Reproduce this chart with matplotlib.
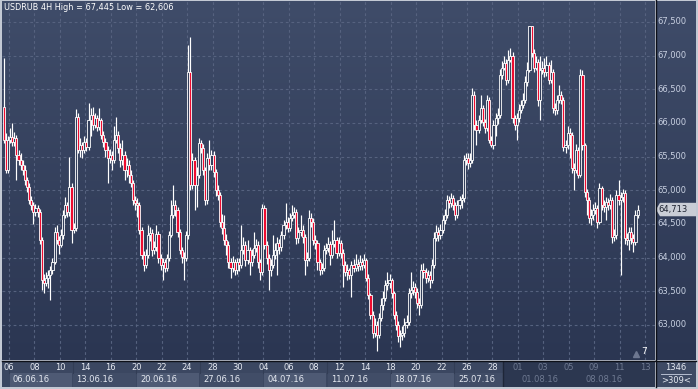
import numpy as np
import matplotlib
matplotlib.use('Agg')
import matplotlib.pyplot as plt
from matplotlib.colors import LinearSegmentedColormap
from matplotlib.patches import Rectangle, Polygon

# ---------------- data ----------------
title = 'USDRUB 4H High = 67,445 Low = 62,606'
first_open = 66.24
closes = [
    65.75, 65.30, 65.75, 65.79, 65.72, 65.78, 65.52, 65.45, 65.37, 65.30,
    65.15, 65.05, 64.85, 64.78, 64.68, 64.73, 64.68, 64.26, 63.67, 63.62,
    63.70, 63.74, 63.81, 63.93, 64.38, 64.26, 64.19, 64.33, 64.63, 64.78,
    64.68, 65.05, 64.41, 64.44, 66.09, 65.60, 65.67, 65.60, 65.72, 65.64,
    66.04, 66.12, 65.97, 66.07, 65.94, 66.04, 65.82, 65.72, 65.60, 65.48,
    65.52, 65.45, 65.75, 65.82, 65.63, 65.45, 65.52, 65.30, 65.37, 65.23,
    65.11, 64.85, 64.81, 64.78, 64.41, 64.04, 63.89, 64.04, 64.33, 64.36,
    64.11, 64.16, 64.35, 63.99, 63.89, 63.93, 63.84, 63.99, 64.33, 64.63,
    64.78, 64.71, 64.38, 64.11, 64.01, 63.99, 64.33, 66.76, 65.08, 65.45,
    65.08, 65.23, 65.70, 65.63, 65.30, 64.85, 65.48, 65.37, 65.52, 65.27,
    65.00, 64.93, 64.53, 64.44, 64.26, 64.19, 63.93, 63.84, 63.93, 63.81,
    63.93, 63.89, 64.11, 64.19, 63.96, 64.11, 63.93, 64.04, 64.14, 64.19,
    63.93, 63.78, 64.73, 64.19, 63.99, 63.81, 63.89, 64.04, 64.11, 64.22,
    64.16, 64.33, 64.48, 64.53, 64.44, 64.59, 64.63, 64.68, 64.29, 64.38,
    64.41, 64.30, 63.96, 63.99, 64.59, 64.53, 64.26, 64.22, 63.93, 63.81,
    63.84, 64.11, 64.14, 64.20, 64.04, 64.20, 64.26, 64.07, 64.22, 64.07,
    63.89, 63.78, 63.81, 63.74, 63.89, 63.84, 63.91, 63.87, 63.93, 63.89,
    63.96, 63.70, 63.44, 63.15, 62.88, 63.00, 62.85, 63.10, 63.29, 63.40,
    63.59, 63.62, 63.67, 63.47, 63.15, 63.00, 62.83, 62.85, 62.88, 63.00,
    63.04, 63.47, 63.52, 63.56, 63.49, 63.32, 63.29, 63.81, 63.78, 63.70,
    63.74, 63.67, 63.89, 64.29, 64.38, 64.33, 64.41, 64.56, 64.63, 64.85,
    64.81, 64.88, 64.78, 64.63, 64.78, 64.85, 64.88, 65.45, 65.48, 65.40,
    65.45, 66.42, 65.97, 65.90, 66.04, 66.22, 66.01, 65.93, 66.34, 65.75,
    65.67, 65.97, 66.07, 66.12, 66.71, 66.82, 66.89, 66.64, 66.94, 67.00,
    66.07, 65.97, 66.07, 66.19, 66.27, 66.34, 66.61, 66.79, 67.445, 67.04,
    66.82, 66.91, 66.34, 66.79, 66.82, 66.76, 66.86, 66.64, 66.76, 66.22,
    66.19, 66.34, 66.42, 66.34, 65.64, 65.67, 65.85, 65.82, 65.33, 65.30,
    65.60, 65.23, 66.71, 65.67, 64.97, 64.85, 64.59, 64.63, 64.71, 64.73,
    64.53, 65.03, 64.78, 64.75, 64.82, 64.78, 64.85, 64.30, 64.33, 64.93,
    64.85, 64.90, 64.96, 64.29, 64.26, 64.38, 64.29, 64.23, 64.63, 64.713,
]
highs = [
    66.96, 65.85, 65.80, 65.93, 66.00, 65.86, 65.82, 65.60, 65.55, 65.45,
    65.38, 65.20, 65.10, 64.92, 64.82, 64.80, 64.78, 64.72, 64.30, 63.75,
    63.78, 63.82, 63.88, 64.00, 64.45, 64.48, 64.32, 64.42, 64.70, 64.90,
    64.82, 65.50, 65.10, 64.52, 66.20, 66.15, 65.78, 65.72, 65.80, 65.78,
    66.30, 66.22, 66.24, 66.15, 66.12, 66.22, 66.08, 65.88, 65.78, 65.66,
    65.62, 65.58, 65.95, 66.09, 65.88, 65.70, 65.75, 65.58, 65.48, 65.45,
    65.30, 65.15, 64.92, 64.88, 64.82, 64.45, 64.10, 64.12, 64.48, 64.45,
    64.42, 64.25, 64.48, 64.40, 64.05, 64.00, 63.98, 64.05, 64.40, 64.85,
    65.08, 64.85, 64.75, 64.42, 64.15, 64.08, 64.40, 67.16, 67.28, 65.55,
    65.50, 65.35, 65.78, 65.75, 65.68, 65.35, 65.55, 65.75, 65.60, 65.58,
    65.32, 65.08, 64.98, 64.65, 64.63, 64.35, 64.25, 64.00, 64.02, 63.98,
    64.00, 64.00, 64.48, 64.30, 64.25, 64.26, 64.16, 64.12, 64.38, 64.28,
    64.24, 63.98, 64.80, 64.78, 64.25, 64.05, 63.98, 64.33, 64.22, 64.30,
    64.28, 64.40, 64.56, 64.81, 64.60, 64.66, 64.78, 64.75, 64.72, 64.45,
    64.63, 64.48, 64.35, 64.08, 64.71, 64.66, 64.58, 64.33, 64.26, 63.98,
    63.92, 64.18, 64.22, 64.30, 64.25, 64.41, 64.56, 64.30, 64.30, 64.26,
    64.12, 63.95, 63.90, 63.85, 63.95, 63.98, 64.05, 63.98, 64.04, 64.00,
    64.05, 64.00, 63.75, 63.48, 63.20, 63.10, 63.06, 63.18, 63.40, 63.50,
    63.66, 63.78, 63.75, 63.70, 63.50, 63.20, 63.05, 62.92, 62.98, 63.10,
    63.15, 63.55, 63.78, 63.65, 63.62, 63.55, 63.40, 63.90, 63.92, 63.85,
    63.82, 63.80, 63.98, 64.38, 64.48, 64.45, 64.50, 64.63, 64.72, 64.93,
    64.92, 64.96, 64.93, 64.82, 64.85, 64.92, 64.95, 65.52, 65.56, 65.55,
    65.55, 66.52, 66.48, 66.05, 66.12, 66.42, 66.26, 66.06, 66.42, 66.38,
    65.80, 66.05, 66.15, 66.22, 66.80, 66.92, 67.00, 66.95, 67.08, 67.12,
    67.05, 66.12, 66.15, 66.28, 66.34, 66.45, 66.70, 66.90, 67.445, 67.44,
    67.10, 67.00, 66.95, 67.00, 66.92, 66.96, 67.00, 66.90, 66.94, 66.80,
    66.30, 66.42, 66.56, 66.48, 66.38, 65.75, 65.95, 65.92, 65.86, 65.40,
    65.68, 65.64, 66.80, 66.78, 65.70, 65.02, 64.90, 64.72, 64.80, 64.82,
    64.78, 65.10, 65.06, 64.85, 64.90, 64.88, 64.95, 64.90, 64.42, 65.00,
    65.15, 64.98, 65.02, 65.00, 64.36, 64.46, 64.45, 64.35, 64.70, 64.78,
]
lows = [
    65.70, 65.25, 65.26, 65.70, 65.66, 65.65, 65.15, 65.38, 65.30, 65.22,
    65.08, 64.98, 64.80, 64.70, 64.50, 64.62, 64.60, 64.20, 63.52, 63.47,
    63.58, 63.55, 63.37, 63.75, 63.90, 64.20, 64.05, 64.15, 64.28, 64.58,
    64.60, 64.62, 64.22, 64.36, 64.40, 65.55, 65.50, 65.48, 65.55, 65.58,
    65.60, 65.80, 65.90, 65.92, 65.88, 65.90, 65.76, 65.64, 65.50, 65.11,
    65.40, 65.30, 65.40, 65.70, 65.55, 65.35, 65.38, 65.15, 65.20, 65.10,
    65.05, 64.78, 64.70, 64.60, 64.35, 63.98, 63.80, 63.84, 64.00, 64.25,
    64.02, 64.05, 64.10, 63.92, 63.81, 63.67, 63.78, 63.80, 63.95, 64.30,
    64.58, 64.62, 64.30, 64.05, 63.92, 63.67, 63.95, 64.28, 65.00, 65.02,
    64.71, 64.75, 65.18, 65.55, 65.22, 64.78, 64.80, 65.30, 65.30, 65.20,
    64.92, 64.85, 64.45, 64.35, 64.18, 64.04, 63.85, 63.70, 63.78, 63.74,
    63.75, 63.80, 63.85, 64.05, 63.88, 63.90, 63.74, 63.88, 64.00, 64.08,
    63.85, 63.67, 63.74, 64.12, 63.90, 63.52, 63.72, 63.85, 63.98, 63.74,
    64.05, 64.10, 64.28, 64.42, 64.38, 64.40, 64.55, 64.58, 64.20, 64.22,
    64.32, 64.22, 63.74, 63.88, 63.95, 64.45, 64.18, 64.12, 63.81, 63.74,
    63.76, 63.80, 64.05, 64.08, 63.89, 64.00, 64.15, 64.00, 64.02, 64.00,
    63.56, 63.72, 63.67, 63.68, 63.41, 63.78, 63.80, 63.80, 63.82, 63.82,
    63.85, 63.65, 63.38, 63.08, 62.80, 62.82, 62.606, 62.80, 63.05, 63.22,
    63.35, 63.52, 63.55, 63.40, 63.08, 62.92, 62.75, 62.67, 62.78, 62.82,
    62.95, 63.00, 63.40, 63.45, 63.40, 63.25, 63.15, 63.25, 63.70, 63.62,
    63.64, 63.55, 63.62, 63.85, 64.25, 64.25, 64.28, 64.36, 64.50, 64.58,
    64.74, 64.75, 64.70, 64.56, 64.58, 64.72, 64.74, 64.82, 65.38, 65.32,
    65.35, 65.40, 65.90, 65.67, 65.85, 66.00, 65.95, 65.85, 65.88, 65.70,
    65.64, 65.62, 65.80, 65.98, 66.08, 66.65, 66.78, 66.56, 66.60, 66.90,
    66.00, 65.90, 65.75, 66.02, 66.15, 66.22, 66.30, 66.55, 66.75, 66.98,
    66.75, 66.78, 66.25, 66.05, 66.72, 66.68, 66.70, 66.58, 66.60, 66.15,
    66.12, 66.14, 66.30, 66.28, 65.58, 65.56, 65.62, 65.48, 65.26, 65.00,
    65.25, 65.18, 65.20, 65.60, 64.90, 64.63, 64.52, 64.48, 64.56, 64.64,
    64.44, 64.50, 64.70, 64.68, 64.56, 64.70, 64.72, 64.22, 64.25, 64.28,
    64.78, 63.74, 64.82, 64.20, 64.18, 64.11, 64.20, 64.08, 64.18, 64.58,
]
price_ticks = [63.0, 63.5, 64.0, 64.5, 65.0, 65.5, 66.0, 66.5, 67.0, 67.5]
price_tick_labels = ['63,000', '63,500', '64,000', '64,500', '65,000',
                     '65,500', '66,000', '66,500', '67,000', '67,500']
day_labels = ['06', '08', '10', '14', '16', '20', '22', '24', '28', '30',
              '04', '06', '08', '12', '14', '18', '20', '22', '26', '28',
              '01', '03', '05', '09', '11', '13']
week_labels = ['06.06.16', '13.06.16', '20.06.16', '27.06.16', '04.07.16',
               '11.07.16', '18.07.16', '25.07.16', '01.08.16', '08.08.16']
last_price = 64.713
last_price_label = '64,713'
bars_total = '1346'
bars_visible = '>309<'

# ---------------- layout ----------------
W, H = 698, 389
fig = plt.figure(figsize=(W / 100, H / 100), dpi=100)
fig.patch.set_facecolor('#c3c9d4')

def ax_px(x0, y0, x1, y1):
    return fig.add_axes([x0 / W, 1 - y1 / H, (x1 - x0) / W, (y1 - y0) / H])

XL = (-0.80, 307.2)
YL = (62.477, 67.812)
top_c, bot_c = '#3f4c69', '#2b3652'
cmap = LinearSegmentedColormap.from_list('bg', [bot_c, top_c])
grad = np.linspace(0, 1, 256).reshape(-1, 1)

ax = ax_px(2, 1, 655, 360)
ax.set_xlim(*XL)
ax.set_ylim(*YL)
ax.imshow(grad, extent=[XL[0], XL[1], YL[0], YL[1]], origin='lower',
          aspect='auto', cmap=cmap, zorder=0)
for s in ax.spines.values():
    s.set_visible(False)
ax.set_xticks([])
ax.set_yticks([])

grid_col = '#56627f'
for p in price_ticks:
    ax.axhline(p, color=grid_col, lw=0.8, ls=(0, (2.5, 2.5)), zorder=1)
n_days = len(day_labels)
tick_pos = [3 + 12 * k - 0.5 for k in range(n_days)]
for t in tick_pos:
    ax.axvline(t, color=grid_col, lw=0.8, ls=(0, (2.5, 2.5)), zorder=1)

# candles
n = len(closes)
opens = [first_open] + closes[:-1]
xs = np.arange(n)
o = np.array(opens)
c = np.array(closes)
hi = np.array(highs)
lo = np.array(lows)
ax.vlines(xs, lo, hi, color='white', lw=0.85, zorder=2)
up = c >= o
body_bot = np.minimum(o, c)
body_h = np.maximum(np.abs(c - o), 0.012)
faces = np.where(up, '#34405c', '#ee0c30')
ax.bar(xs, body_h, bottom=body_bot, width=1.0, color=faces,
       edgecolor='white', linewidth=0.6, zorder=3)

# "7" marker
ax.plot([298.3], [62.57], marker='^', color='#6d7790', ms=4, zorder=4)
ax.text(300.6, 62.60, '7', color='white', fontsize=6.5, va='center',
        ha='left', zorder=4)

# title
fig.text(4 / W, 1 - 2.5 / H, title, color='white', fontsize=5.9,
         va='top', ha='left')

# right price panel
axr = ax_px(656, 1, 696, 360)
axr.set_xlim(0, 1)
axr.set_ylim(*YL)
axr.imshow(grad, extent=[0, 1, YL[0], YL[1]], origin='lower', aspect='auto',
           cmap=cmap, zorder=0)
axr.axis('off')
for p, lab in zip(price_ticks, price_tick_labels):
    axr.text(0.03, p, lab, color='#c9d1e2', fontsize=6, va='center', ha='left')
# last price tag
tag_h = 0.10
axr.add_patch(Polygon([[0.0, last_price], [0.1, last_price + tag_h],
                       [1.0, last_price + tag_h], [1.0, last_price - tag_h],
                       [0.1, last_price - tag_h]], closed=True,
                      facecolor='#c9cdd6', edgecolor='none', zorder=3))
axr.text(0.07, last_price, last_price_label, color='#1c2230', fontsize=6,
         va='center', ha='left', zorder=4)

# time axis
axt = ax_px(2, 361, 655, 387)
axt.set_xlim(*XL)
axt.set_ylim(0, 1)
axt.axis('off')
axt.add_patch(Rectangle((XL[0], 0), XL[1] - XL[0], 1, facecolor='#3b4761',
                        edgecolor='none', zorder=0))
week_pos = [3 + 30 * w - 0.5 for w in range(len(week_labels))]
week_pos_ext = week_pos + [XL[1]]
for w, lab in enumerate(week_labels):
    x0 = week_pos[w]
    x1 = week_pos_ext[w + 1]
    fc = '#4e5a74' if w % 2 == 0 else '#414d67'
    axt.add_patch(Rectangle((x0 + 0.3, 0.0), x1 - x0 - 0.6, 0.52,
                            facecolor=fc, edgecolor='none', zorder=1))
    axt.plot([x0, x0], [0.52, 1.0], color='#323d55', lw=0.8, zorder=1)
# dimmed region (right part)
dim_start = (503 - 3.7) / 2.12
axt.add_patch(Rectangle((dim_start, 0), XL[1] - dim_start, 1,
                        facecolor='#2c3750', edgecolor='none', zorder=2))
axt.plot([dim_start, dim_start], [0, 1], color='#1e2638', lw=1.0, zorder=2)
for t, lab in zip(tick_pos, day_labels):
    col = '#6f7a92' if t > dim_start else '#e6eaf2'
    axt.text(t, 0.74, lab, color=col, fontsize=6, ha='center', va='center',
             zorder=3)
for x0, lab in zip(week_pos, week_labels):
    col = '#6f7a92' if x0 > dim_start - 5 else '#e6eaf2'
    axt.text(x0 + 1.8, 0.27, lab, color=col, fontsize=6, ha='left',
             va='center', zorder=3)

# corner box
axc = ax_px(656, 361, 696, 387)
axc.set_xlim(0, 1)
axc.set_ylim(0, 1)
axc.axis('off')
axc.add_patch(Rectangle((0, 0), 1, 1, facecolor='#3e4a64', edgecolor='none'))
axc.text(0.5, 0.74, bars_total, color='#e6eaf2', fontsize=6, ha='center',
         va='center')
axc.plot([0.12, 0.88], [0.5, 0.5], color='#c9d1e2', lw=0.6)
axc.text(0.5, 0.26, bars_visible, color='#e6eaf2', fontsize=6, ha='center',
         va='center')

# separators
fig.add_artist(plt.Line2D([655.5 / W, 655.5 / W], [1 - 387 / H, 1 - 0 / H],
                          color='#0d1018', lw=1.0))
fig.add_artist(plt.Line2D([2 / W, 696 / W], [1 - 360.5 / H, 1 - 360.5 / H],
                          color='#0d1018', lw=1.0))

fig.savefig('out.png', dpi=100, facecolor=fig.get_facecolor())
